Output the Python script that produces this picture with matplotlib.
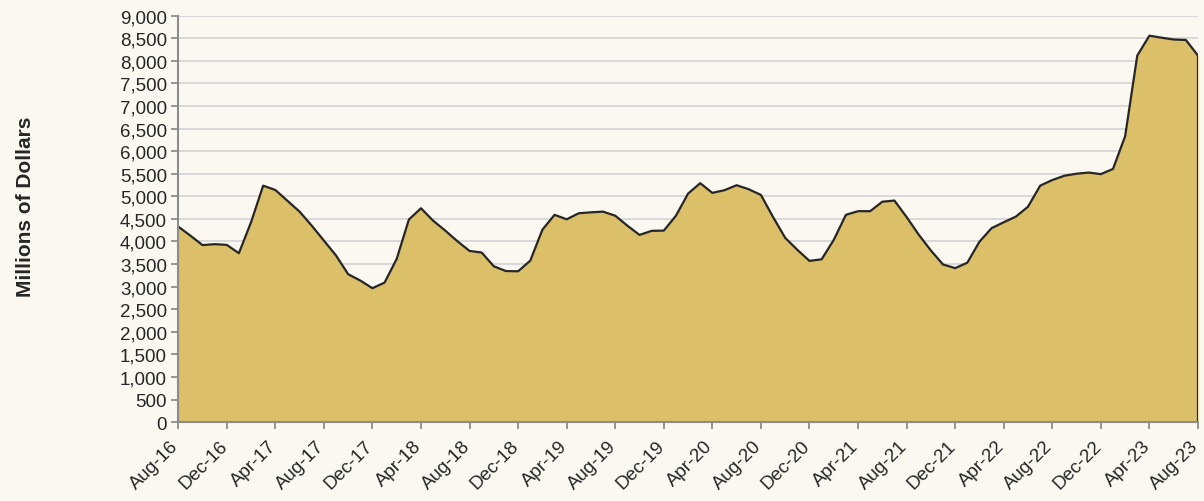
import matplotlib
matplotlib.use("Agg")
import matplotlib.pyplot as plt
import matplotlib.transforms as mtransforms
import numpy as np

plt.rcParams['font.family'] = ['Liberation Sans', 'DejaVu Sans']

# monthly values, Aug-16 .. Aug-23 (millions of dollars)
values = [4330, 4130, 3920, 3940, 3925, 3740, 4425, 5235, 5140, 4900,
          4660, 4350, 4020, 3690, 3275, 3135, 2965, 3090, 3615, 4485,
          4735, 4460, 4240, 4005, 3790, 3755, 3450, 3345, 3340, 3575,
          4260, 4590, 4490, 4625, 4645, 4660, 4570, 4350, 4145, 4235,
          4240, 4570, 5060, 5290, 5075, 5135, 5245, 5155, 5030, 4540,
          4080, 3815, 3570, 3605, 4035, 4590, 4670, 4670, 4880, 4905,
          4540, 4150, 3800, 3490, 3410, 3530, 3995, 4295, 4425, 4550,
          4770, 5235, 5360, 5455, 5500, 5525, 5490, 5605, 6330, 8115,
          8555, 8510, 8470, 8460, 8115]

tick_labels = ["Aug-16", "Dec-16", "Apr-17", "Aug-17", "Dec-17", "Apr-18",
               "Aug-18", "Dec-18", "Apr-19", "Aug-19", "Dec-19", "Apr-20",
               "Aug-20", "Dec-20", "Apr-21", "Aug-21", "Dec-21", "Apr-22",
               "Aug-22", "Dec-22", "Apr-23", "Aug-23"]

BG = "#faf8f0"
FILL = "#dbbf69"
LINE = "#262626"
AXIS = "#8c8c8c"

x = np.arange(len(values))

fig = plt.figure(figsize=(12.04, 5.02), dpi=100, facecolor=BG)
ax = fig.add_axes([0.148, 0.157, 0.847, 0.81])
ax.set_facecolor(BG)

ax.fill_between(x, values, 0, color=FILL, linewidth=0, zorder=2)
ax.plot(x, values, color=LINE, linewidth=1.6, zorder=3)
ax.plot([x[-1], x[-1]], [0, values[-1]], color=LINE, linewidth=1.6, zorder=3)

ax.set_xlim(0, len(values) - 1)
ax.set_ylim(0, 9000)
ax.set_yticks(np.arange(0, 9001, 500))
ax.set_yticklabels([f"{v:,}" for v in range(0, 9001, 500)], fontsize=13.5, color="#262626")

# x labels drawn as rotated texts so they can sit a bit left of each tick
xticks = np.arange(0, len(values), 4)
ax.set_xticks(xticks)
ax.set_xticklabels([])
lbl_trans = ax.get_xaxis_transform() + mtransforms.ScaledTranslation(-8 / 100, -15 / 100, fig.dpi_scale_trans)
for xt, lab in zip(xticks, tick_labels):
    ax.text(xt, 0, lab, transform=lbl_trans, rotation=45, ha="right", va="top",
            rotation_mode="anchor", fontsize=13.5, color="#262626", clip_on=False)

ax.yaxis.grid(True, color="#d9d9d9", linewidth=1.4, zorder=1)
ax.set_axisbelow(True)
for side in ["top", "right"]:
    ax.spines[side].set_visible(False)
for side in ["left", "bottom"]:
    ax.spines[side].set_color(AXIS)
    ax.spines[side].set_linewidth(1.5)
    ax.spines[side].set_zorder(4)
ax.tick_params(axis="y", direction="out", length=5, width=1.3, color=AXIS, pad=3)
ax.tick_params(axis="x", direction="out", length=5, width=1.3, color=AXIS)

fig.text(0.021, 0.588, "Millions of Dollars", rotation=90, ha="center", va="center",
         fontsize=15, fontweight="bold", color="#262626")

fig.savefig("out.png", dpi=100, facecolor=BG)
